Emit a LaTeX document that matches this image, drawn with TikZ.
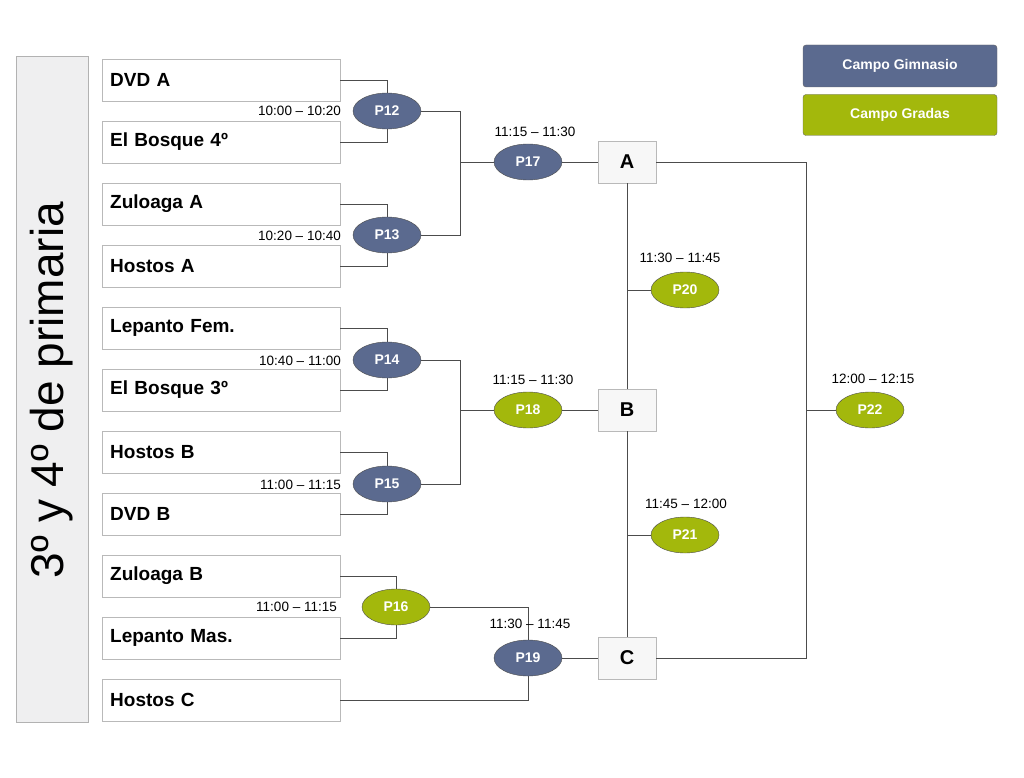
\documentclass[tikz,border=0pt]{standalone}
\usepackage{fontspec}
\setmainfont{Liberation Sans}
\usetikzlibrary{shapes.geometric}
\definecolor{gblue}{HTML}{5B6A8F}
\definecolor{ggreen}{HTML}{A3B80C}
\begin{document}
\begin{tikzpicture}[x=1pt,y=-1pt,
 team/.style={draw=gray!55,fill=white,minimum width=238pt,minimum height=42pt,anchor=west,inner sep=8pt,font=\fontsize{19}{22}\selectfont\bfseries,text width=222pt,align=left},
 letter/.style={draw=gray!55,fill=gray!6,minimum width=58pt,minimum height=42pt,font=\fontsize{20}{22}\selectfont\bfseries},
 gm/.style={ellipse,draw=black!70,fill=gblue,minimum width=68pt,minimum height=36pt,inner sep=0pt,text=white,font=\fontsize{14}{16}\selectfont\bfseries},
 gr/.style={gm,fill=ggreen},
 tm/.style={font=\fontsize{13.5}{15}\selectfont,inner sep=1pt},
 ln/.style={draw=black!70,line width=0.9pt}]
\useasboundingbox (0,0) rectangle (1024,778);
\node[draw=gray!60,fill=blue!4!gray!12,minimum width=72pt,minimum height=666pt] (panel) at (52,389) {};
\node[rotate=90,font=\fontsize{46}{50}\selectfont] (title) at (52,390) {3º y 4º de primaria};
\foreach \n/\t/\y in {t1/DVD A/80,t2/El Bosque 4º/142,t3/Zuloaga A/204,t4/Hostos A/266,t5/Lepanto Fem./328,t6/El Bosque 3º/390,t7/Hostos B/452,t8/DVD B/514,t9/Zuloaga B/576,t10/Lepanto Mas./638,t11/Hostos C/700}
 \node[team] (\n) at (102,\y) {\t};
\node[letter] (A) at (627,162) {A};
\node[letter] (B) at (627,410) {B};
\node[letter] (C) at (627,658) {C};
% connectors
\draw[ln] (t1.east) -| (387,111) (t2.east) -| (387,111);
\draw[ln] (t3.east) -| (387,235) (t4.east) -| (387,235);
\draw[ln] (t5.east) -| (387,360) (t6.east) -| (387,360);
\draw[ln] (t7.east) -| (387,484) (t8.east) -| (387,484);
\draw[ln] (t9.east) -| (396,607) (t10.east) -| (396,607);
\coordinate (j1) at (460,162);
\coordinate (j2) at (460,410);
\draw[ln] (387,111) -| (j1) (387,235) -| (j1) (j1) -- (A);
\draw[ln] (387,360) -| (j2) (387,484) -| (j2) (j2) -- (B);
\draw[ln] (396,607) -| (528,658) (t11.east) -| (528,658) -- (C);
\draw[ln] (A) -- (B) -- (C);
\draw[ln] (627,290) -- (685,290);
\draw[ln] (627,535) -- (685,535);
\coordinate (j3) at (806,410);
\draw[ln] (A.east) -| (j3) (C.east) -| (j3) (j3) -- (870,410);
% games
\node[gm] (P12) at (387,111) {P12};
\node[gm] (P13) at (387,235) {P13};
\node[gm] (P14) at (387,360) {P14};
\node[gm] (P15) at (387,484) {P15};
\node[gr] (P16) at (396,607) {P16};
\node[gm] (P17) at (528,162) {P17};
\node[gr] (P18) at (528,410) {P18};
\node[gm] (P19) at (528,658) {P19};
\node[gr] (P20) at (685,290) {P20};
\node[gr] (P21) at (685,535) {P21};
\node[gr] (P22) at (870,410) {P22};
% times
\node[tm,anchor=east] (tm12) at (342,111) {10:00 – 10:20};
\node[tm,anchor=east] (tm13) at (342,236) {10:20 – 10:40};
\node[tm,anchor=east] (tm14) at (342,361) {10:40 – 11:00};
\node[tm,anchor=east] (tm15) at (342,485) {11:00 – 11:15};
\node[tm,anchor=east] (tm16) at (338,607) {11:00 – 11:15};
\node[tm] (tm17) at (535,132) {11:15 – 11:30};
\node[tm] (tm18) at (533,380) {11:15 – 11:30};
\node[tm] (tm19) at (530,624) {11:30 – 11:45};
\node[tm] (tm20) at (680,258) {11:30 – 11:45};
\node[tm] (tm21) at (686,504) {11:45 – 12:00};
\node[tm] (tm22) at (873,379) {12:00 – 12:15};
% legend
\node[draw=black!60,fill=gblue,rounded corners=3pt,minimum width=194pt,minimum height=42pt,text=white,font=\fontsize{14}{16}\selectfont\bfseries] (lg1) at (900,66) {Campo Gimnasio};
\node[draw=black!60,fill=ggreen,rounded corners=3pt,minimum width=194pt,minimum height=41pt,text=white,font=\fontsize{14}{16}\selectfont\bfseries] (lg2) at (900,115) {Campo Gradas};
\end{tikzpicture}
\end{document}
